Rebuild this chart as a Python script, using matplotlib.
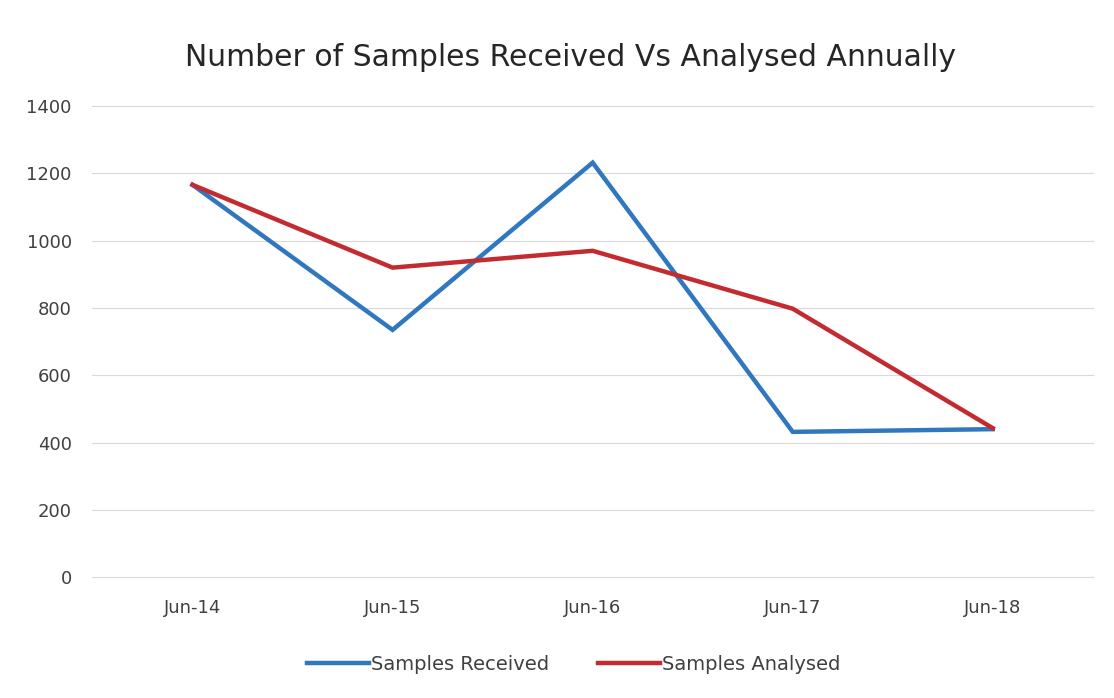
import matplotlib.pyplot as plt
import numpy as np

# chart data
months = ['Jun-14', 'Jun-15', 'Jun-16', 'Jun-17', 'Jun-18']
received = [1166, 735, 1232, 432, 440]
analysed = [1166, 920, 970, 798, 443]

blue = '#2f78bf'
red = '#c42b30'
text_col = '#404040'

fig = plt.figure(figsize=(11.14, 6.98), dpi=100)
ax = fig.add_axes([0.083, 0.173, 0.898, 0.675])

x = np.arange(len(months))
ax.plot(x, received, color=blue, lw=3.2, label='Samples Received', solid_joinstyle='miter')
ax.plot(x, analysed, color=red, lw=3.2, label='Samples Analysed', solid_joinstyle='miter')

ax.set_xlim(-0.5, len(months) - 0.5)
ax.set_ylim(0, 1400)
ax.set_yticks(np.arange(0, 1401, 200))
ax.set_xticks(x)
ax.set_xticklabels(months)
ax.grid(axis='y', color='#d9d9d9', lw=0.8, clip_on=False)
ax.set_axisbelow(True)
for s in ax.spines.values():
    s.set_visible(False)
ax.tick_params(length=0, labelsize=13, labelcolor=text_col)
ax.tick_params(axis='x', pad=16)
ax.tick_params(axis='y', pad=15)

fig.text(0.512, 0.917, 'Number of Samples Received Vs Analysed Annually',
         ha='center', va='center', fontsize=21.5, color='#262626')

fig.legend(loc='center', bbox_to_anchor=(0.515, 0.048), ncol=2, frameon=False,
           fontsize=14, handlelength=3.2, handletextpad=0.1, columnspacing=2.5,
           labelcolor=text_col)

fig.savefig('out.png')
